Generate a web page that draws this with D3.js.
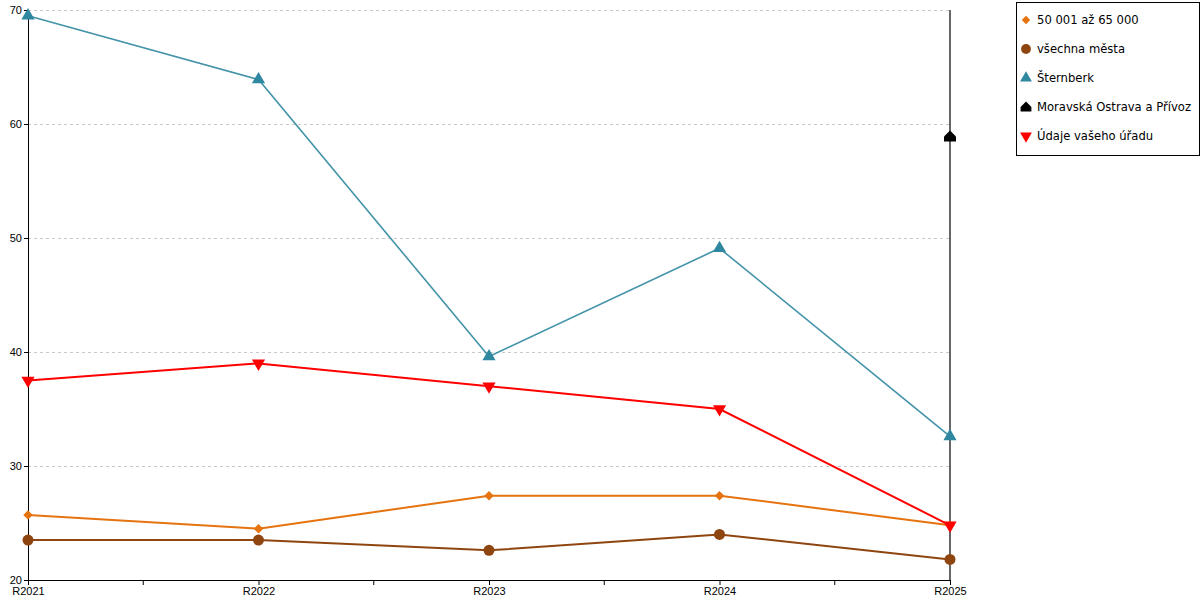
<!DOCTYPE html>
<html>
<head>
<meta charset="utf-8">
<script src="https://cdn.jsdelivr.net/npm/d3@7"></script>
<style>
  body { margin: 0; background: #fff; }
  svg { font-family: "DejaVu Sans", sans-serif; }
</style>
</head>
<body>
<div id="chart"></div>
<script>
const categories = ["R2021", "R2022", "R2023", "R2024", "R2025"];
const yTicks = [20, 30, 40, 50, 60, 70];

const seriesNames = ["50 001 až 65 000", "všechna města", "Šternberk", "Moravská Ostrava a Přívoz", "Údaje vašeho úřadu"];
const skupina = [25.7, 24.5, 27.4, 27.4, 24.8];
const vsechnaMesta = [23.5, 23.5, 22.6, 24.0, 21.8];
const sternberk = [69.5, 63.9, 39.6, 49.1, 32.6];
const moravskaOstrava = [null, null, null, null, 58.9];
const vasUrad = [37.5, 39.0, 37.0, 35.0, 24.8];

const width = 1200;
const height = 600;
const margin = {top: 10, right: 250, bottom: 20, left: 28};

const svg = d3.select("#chart")
	.append("svg")
	.attr("width", width)
	.attr("height", height);

const x = d3.scalePoint()
	.domain(categories)
	.range([margin.left, width - margin.right]);

const y = d3.scaleLinear()
	.domain([20, 70])
	.range([height - margin.bottom, margin.top]);

// grid lines
svg.append("g")
	.selectAll("line")
	.data(yTicks.filter(t => t > 20))
	.enter()
	.append("line")
	.attr("x1", margin.left)
	.attr("x2", width - margin.right)
	.attr("y1", d => Math.round(y(d)) + 0.5)
	.attr("y2", d => Math.round(y(d)) + 0.5)
	.attr("stroke", "#c8c8c8")
	.attr("stroke-dasharray", "3,3");

// y axis
const yAxis = svg.append("g")
	.attr("transform", `translate(${margin.left},0)`)
	.call(d3.axisLeft(y).tickValues(yTicks).tickSize(4).tickPadding(2));
yAxis.selectAll("text").style("font-size", "11px").attr("fill", "#000");
yAxis.select(".domain").attr("stroke", "#000");

// x axis with minor ticks between categories
const step = x.step();
const xAxis = svg.append("g")
	.attr("transform", `translate(0,${height - margin.bottom})`)
	.call(d3.axisBottom(x).tickSize(5).tickPadding(2).tickSizeOuter(0));
xAxis.selectAll("text").style("font-size", "11px").attr("fill", "#000");
xAxis.select(".domain").attr("stroke", "#000");
xAxis.selectAll(".minor")
	.data(categories.slice(0, -1))
	.enter()
	.append("line")
	.attr("class", "minor")
	.attr("x1", d => x(d) + step / 2)
	.attr("x2", d => x(d) + step / 2)
	.attr("y1", 0)
	.attr("y2", 5)
	.attr("stroke", "#000");

// right axis line
svg.append("line")
	.attr("x1", x(categories[categories.length - 1]))
	.attr("x2", x(categories[categories.length - 1]))
	.attr("y1", y(70))
	.attr("y2", y(20))
	.attr("stroke", "#000")
	.attr("stroke-width", 1.2);

const series = [
	{name: seriesNames[0], values: skupina, color: "#e5730f", symbol: d3.symbolSquare, size: 45, rot: 45},
	{name: seriesNames[1], values: vsechnaMesta, color: "#8f4510", symbol: d3.symbolCircle, size: 95, rot: 0},
	{name: seriesNames[2], values: sternberk, color: "#2f87a0", symbol: d3.symbolTriangle, size: 75, rot: 0},
	{name: seriesNames[3], values: moravskaOstrava, color: "#000000", symbol: "house", size: 0, rot: 0},
	{name: seriesNames[4], values: vasUrad, color: "#ff0000", symbol: d3.symbolTriangle, size: 75, rot: 180}
];

const housePath = "M0,-6L6,0L6,5L-6,5L-6,0Z";

function symbolPath(s) {
	if (s.symbol === "house") return housePath;
	return d3.symbol().type(s.symbol).size(s.size)();
}

const line = d3.line()
	.defined(d => d.v !== null)
	.x(d => x(d.c))
	.y(d => y(d.v));

series.forEach(s => {
	const pts = categories.map((c, i) => ({c: c, v: s.values[i]}));
	svg.append("path")
		.datum(pts)
		.attr("d", line)
		.attr("fill", "none")
		.attr("stroke", s.color)
		.attr("stroke-width", s.color === "#2f87a0" ? 1.6 : 2)
		.attr("stroke-opacity", s.color === "#2f87a0" ? 0.9 : 1);
});

series.forEach(s => {
	const pts = categories.map((c, i) => ({c: c, v: s.values[i]})).filter(d => d.v !== null);
	svg.append("g")
		.selectAll("path")
		.data(pts)
		.enter()
		.append("path")
		.attr("d", symbolPath(s))
		.attr("transform", d => `translate(${x(d.c)},${y(d.v)}) rotate(${s.rot})`)
		.attr("fill", s.color);
});

// legend
const legend = svg.append("g").attr("transform", "translate(1016,2)");
legend.append("rect")
	.attr("x", 0.5)
	.attr("y", 0.5)
	.attr("width", 183)
	.attr("height", 153)
	.attr("fill", "#fff")
	.attr("stroke", "#000");

const items = legend.selectAll(".item")
	.data(series)
	.enter()
	.append("g")
	.attr("class", "item")
	.attr("transform", (d, i) => `translate(0,${18 + i * 29})`);

items.append("path")
	.attr("d", d => symbolPath(d))
	.attr("transform", d => `translate(10,0) rotate(${d.rot}) scale(0.9)`)
	.attr("fill", d => d.color);

items.append("text")
	.attr("x", 21)
	.attr("y", 4)
	.style("font-size", "11.6px")
	.attr("fill", "#000")
	.text(d => d.name);
</script>
</body>
</html>
